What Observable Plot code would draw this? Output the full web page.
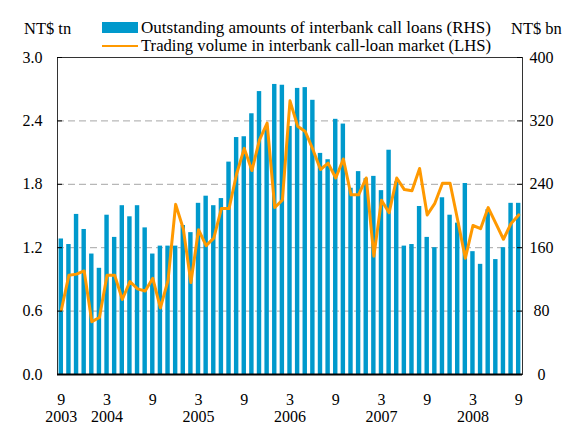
<!DOCTYPE html>
<html><head><meta charset="utf-8">
<script src="https://cdn.jsdelivr.net/npm/d3@7"></script>
<script src="https://cdn.jsdelivr.net/npm/@observablehq/plot@0.6"></script>
<style>html,body{margin:0;padding:0;background:#fff} svg{display:block} svg text{font-family:"Liberation Serif","Times New Roman","DejaVu Serif",serif !important;}</style>
</head><body><div id="chart"></div>
<script>
// Monthly categories: Sep 2003 .. Sep 2008
const months = d3.utcMonth.range(new Date(Date.UTC(2003, 8, 1)), new Date(Date.UTC(2008, 9, 1)));
const fmtKey = d3.utcFormat("%Y-%m");
const monthKeys = months.map(fmtKey);

// Outstanding amounts of interbank call loans (RHS, NT$ bn)
const outstanding = [171,164,202,183,152,134,201,173,213,199,213,185,152,162,162,162,188,179,216,225,
  213,222,268,299,300,329,357,312,366,365,313,361,362,346,279,271,322,316,235,256,
  247,250,232,283,243,162,164,212,173,160,223,201,191,241,155,139,208,145,160,216,216];

// Trading volume in interbank call-loan market (LHS, NT$ tn)
const tradingVolume = [0.61,0.94,0.95,0.98,0.50,0.54,0.94,0.94,0.71,0.88,0.81,0.79,0.91,0.63,0.89,1.61,1.38,0.87,1.37,1.22,
  1.29,1.57,1.57,1.90,2.14,1.93,2.22,2.38,1.58,1.65,2.59,2.35,2.30,2.13,1.94,2.00,1.86,2.04,1.70,1.70,
  1.86,1.12,1.65,1.53,1.86,1.75,1.74,1.95,1.51,1.62,1.81,1.81,1.46,1.10,1.41,1.38,1.58,1.43,1.28,1.43,1.51];

const leftTicks = [0, 0.6, 1.2, 1.8, 2.4, 3.0];
const rightTicks = [0, 80, 160, 240, 320, 400];
const gridTicks = [0.6, 1.2, 1.8, 2.4];
const monthTickKeys = ["2003-09","2004-03","2004-09","2005-03","2005-09","2006-03","2006-09","2007-03","2007-09","2008-03","2008-09"];
const monthTickLabels = ["9","3","9","3","9","3","9","3","9","3","9"];
const yearTickKeys = ["2003-09","2004-03","2005-03","2006-03","2007-03","2008-03"];
const yearTickLabels = ["2003","2004","2005","2006","2007","2008"];
const lhsMax = 3.0, rhsMax = 400;

const data = monthKeys.map((k, i) => ({key: k, bar: outstanding[i], vol: tradingVolume[i]}));
const monthTicks = monthTickKeys.map((k, i) => ({key: k, label: monthTickLabels[i]}));
const yearTicks = yearTickKeys.map((k, i) => ({key: k, label: yearTickLabels[i]}));

const W = 564, H = 428, mL = 57, mR = 42, mT = 57, mB = 54;
const frameW = W - mL - mR;
const BLUE = "#0099cc", ORANGE = "#ff9900";
const FONT = "Liberation Serif";

const plot = Plot.plot({
  width: W, height: H,
  marginLeft: mL, marginRight: mR, marginTop: mT, marginBottom: mB,
  style: {fontFamily: FONT, fontSize: "16px", background: "#fff", color: "#000", overflow: "visible"},
  x: {type: "band", domain: monthKeys, paddingInner: 0.42, paddingOuter: 0.21, axis: null},
  y: {domain: [0, lhsMax], axis: null},
  marks: [
    Plot.ruleY(gridTicks, {stroke: "#a6a6a6", strokeWidth: 1, strokeDasharray: "7,4"}),
    Plot.barY(data, {x: "key", y: d => d.bar * lhsMax / rhsMax, fill: BLUE}),
    Plot.lineY(data, {x: "key", y: "vol", stroke: ORANGE, strokeWidth: 3}),
    Plot.frame({stroke: "#333"}),
    Plot.ruleY([0], {stroke: "#000", strokeWidth: 2}),
    Plot.ruleY(leftTicks, {y: d => d, insetRight: frameW - 5, stroke: "#000"}),
    Plot.ruleY(rightTicks, {y: d => d * lhsMax / rhsMax, insetLeft: frameW - 5, stroke: "#000"}),
    Plot.text(leftTicks, {y: d => d, frameAnchor: "left", dx: -15, textAnchor: "end", text: d => d.toFixed(1), fill: "#000", fontFamily: FONT}),
    Plot.text(rightTicks, {y: d => d * lhsMax / rhsMax, frameAnchor: "right", dx: 19, textAnchor: "middle", text: d => String(d), fill: "#000", fontFamily: FONT}),
    Plot.text(monthTicks, {x: "key", text: "label", frameAnchor: "bottom", dy: 30, fill: "#000", fontFamily: FONT}),
    Plot.text(yearTicks, {x: "key", text: "label", frameAnchor: "bottom", dy: 47, fill: "#000", fontFamily: FONT})
  ]
});

// Units and legend in the top margin
const svg = d3.select(plot);
const g = svg.append("g").attr("font-family", FONT).attr("font-size", 17).attr("fill", "#000").attr("text-anchor", "start");
g.append("text").attr("x", 24).attr("y", 34).attr("font-size", 16.5).text("NT$ tn");
g.append("text").attr("x", 511).attr("y", 34).attr("font-size", 16.5).text("NT$ bn");
g.append("rect").attr("x", 102).attr("y", 22).attr("width", 36).attr("height", 11).attr("fill", BLUE);
g.append("text").attr("x", 141).attr("y", 33)
  .attr("textLength", 350).attr("lengthAdjust", "spacingAndGlyphs")
  .text("Outstanding amounts of interbank call loans (RHS)");
g.append("line").attr("x1", 102).attr("x2", 138).attr("y1", 46).attr("y2", 46).attr("stroke", ORANGE).attr("stroke-width", 2);
g.append("text").attr("x", 141).attr("y", 51)
  .attr("textLength", 350).attr("lengthAdjust", "spacingAndGlyphs")
  .text("Trading volume in interbank call-loan market (LHS)");

document.getElementById("chart").appendChild(plot);
</script>
</body></html>
